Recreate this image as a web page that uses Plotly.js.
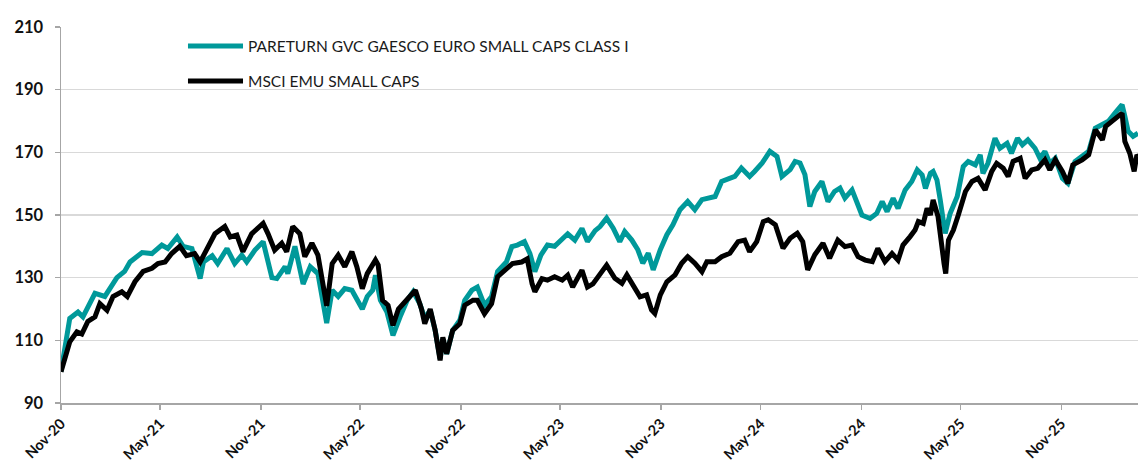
<!DOCTYPE html>
<html>
<head>
<meta charset="utf-8">
<script src="https://cdn.plot.ly/plotly-3.0.1.min.js"></script>
<style>
html,body{margin:0;padding:0;background:#fff;}
#chart{width:1138px;height:462px;}
</style>
</head>
<body>
<div id="chart"></div>
<script>
const seriesNames = ["PARETURN GVC GAESCO EURO SMALL CAPS CLASS I", "MSCI EMU SMALL CAPS"];

const fundDates = ["2020-11-01","2020-11-10","2020-11-17","2020-12-02","2020-12-11","2021-01-02","2021-01-20","2021-02-11","2021-02-25","2021-03-07","2021-03-29","2021-04-16","2021-05-04","2021-05-15","2021-06-01","2021-06-12","2021-06-28","2021-07-13","2021-07-19","2021-08-04","2021-08-14","2021-08-31","2021-09-14","2021-09-27","2021-10-06","2021-10-21","2021-11-05","2021-11-21","2021-11-30","2021-12-15","2021-12-20","2022-01-02","2022-01-17","2022-01-30","2022-02-13","2022-03-01","2022-03-11","2022-03-22","2022-04-03","2022-04-16","2022-04-25","2022-05-05","2022-05-14","2022-05-24","2022-05-29","2022-06-07","2022-06-19","2022-06-30","2022-07-13","2022-07-26","2022-08-06","2022-08-18","2022-08-27","2022-09-06","2022-09-15","2022-09-24","2022-09-29","2022-10-06","2022-10-17","2022-10-30","2022-11-08","2022-11-21","2022-12-01","2022-12-14","2022-12-27","2023-01-07","2023-01-23","2023-02-02","2023-02-12","2023-02-25","2023-03-07","2023-03-16","2023-03-27","2023-04-08","2023-04-21","2023-05-05","2023-05-15","2023-05-28","2023-06-10","2023-06-20","2023-07-04","2023-07-13","2023-07-25","2023-08-06","2023-08-18","2023-08-27","2023-09-09","2023-09-20","2023-09-29","2023-10-09","2023-10-18","2023-10-31","2023-11-12","2023-11-23","2023-12-06","2023-12-20","2024-01-02","2024-01-15","2024-01-24","2024-02-08","2024-02-20","2024-03-06","2024-03-15","2024-03-27","2024-04-11","2024-04-20","2024-05-04","2024-05-18","2024-05-31","2024-06-09","2024-06-24","2024-07-03","2024-07-12","2024-07-21","2024-07-30","2024-08-08","2024-08-21","2024-09-01","2024-09-13","2024-09-23","2024-10-02","2024-10-15","2024-10-24","2024-11-02","2024-11-17","2024-11-29","2024-12-09","2024-12-18","2024-12-29","2025-01-07","2025-01-20","2025-02-01","2025-02-11","2025-02-20","2025-02-26","2025-03-07","2025-03-12","2025-03-19","2025-03-25","2025-04-03","2025-04-12","2025-04-25","2025-05-06","2025-05-15","2025-05-28","2025-06-06","2025-06-11","2025-06-20","2025-07-03","2025-07-12","2025-07-25","2025-08-02","2025-08-13","2025-08-22","2025-09-01","2025-09-14","2025-09-23","2025-10-02","2025-10-11","2025-10-21","2025-11-03","2025-11-13","2025-11-26","2025-12-09","2025-12-21","2026-01-02","2026-01-15","2026-01-26","2026-02-07","2026-02-20","2026-02-25","2026-03-03","2026-03-12","2026-03-21"];
const fundValues = [100,110,117,119,117.5,125,124,130,132,135,138,137.7,140.4,139.3,143,140,139.3,129.7,135,137,134.5,139.3,134.5,137.2,135,138.8,141.5,130,129.7,133.5,131.3,140,128,133.5,131.3,115.5,126,124,126.5,126,122.8,120,124,126,130.8,122.8,119,111.6,117.5,122.8,125.5,121.7,117,119.6,113.2,104.1,110.5,105.7,113.2,116.4,122.8,126,127,121.2,124,132,135,139.9,140.4,141.5,137.7,131.9,137.2,140.4,140,142.5,144,142,145.7,141.5,145,146.3,149,145.8,141.5,144.7,142,138.9,134.6,137.8,132.5,138.9,143.7,146.9,151.7,154.3,151.7,154.9,155.4,155.9,160.7,161.8,162.3,165,162.3,163.9,166.6,170.3,168.7,162.3,164.5,167.1,166.6,162.9,152.7,157.5,160.7,154.3,157.5,158.6,155.4,158,154.3,150,148.9,150.5,154.3,151.1,155.3,152.1,158,160.7,164.4,162.8,158.5,163.3,163.9,161.2,154.8,144.1,150.5,155.9,165.5,167.1,166,169.2,163.3,166.5,174.5,171.3,172.9,169.7,174.5,172.4,174,171.3,168.1,170.3,166.5,168.1,161.7,160.1,167.1,168.7,170.3,177.7,178.8,179.9,182.5,185.2,181.5,176.7,175.1,176.1];

const indexDates = ["2020-11-01","2020-11-10","2020-11-17","2020-11-30","2020-12-09","2020-12-20","2021-01-02","2021-01-11","2021-01-24","2021-02-04","2021-02-20","2021-03-02","2021-03-16","2021-03-31","2021-04-16","2021-04-27","2021-05-10","2021-05-22","2021-06-06","2021-06-18","2021-07-03","2021-07-13","2021-07-25","2021-08-09","2021-08-27","2021-09-06","2021-09-18","2021-09-29","2021-10-15","2021-11-05","2021-11-14","2021-11-26","2021-12-09","2021-12-18","2021-12-29","2022-01-11","2022-01-20","2022-02-02","2022-02-13","2022-03-01","2022-03-11","2022-03-22","2022-04-03","2022-04-16","2022-04-25","2022-05-05","2022-05-14","2022-05-29","2022-06-03","2022-06-11","2022-06-21","2022-06-30","2022-07-10","2022-07-23","2022-08-10","2022-08-21","2022-08-27","2022-09-06","2022-09-15","2022-09-24","2022-09-29","2022-10-06","2022-10-17","2022-10-30","2022-11-08","2022-11-23","2022-12-01","2022-12-14","2022-12-27","2023-01-07","2023-01-23","2023-02-03","2023-02-20","2023-03-02","2023-03-11","2023-03-16","2023-03-29","2023-04-08","2023-04-21","2023-05-05","2023-05-15","2023-05-24","2023-06-10","2023-06-20","2023-06-30","2023-07-13","2023-07-25","2023-08-09","2023-08-22","2023-08-31","2023-09-11","2023-09-24","2023-10-06","2023-10-15","2023-10-21","2023-10-31","2023-11-12","2023-11-27","2023-12-09","2023-12-20","2024-01-02","2024-01-15","2024-01-24","2024-02-08","2024-02-20","2024-03-06","2024-03-21","2024-04-02","2024-04-11","2024-04-24","2024-05-06","2024-05-15","2024-05-28","2024-06-06","2024-06-11","2024-06-24","2024-07-07","2024-07-17","2024-07-26","2024-08-08","2024-08-23","2024-09-04","2024-09-19","2024-10-02","2024-10-15","2024-10-26","2024-11-08","2024-11-21","2024-12-01","2024-12-14","2024-12-27","2025-01-07","2025-01-16","2025-01-29","2025-02-07","2025-02-13","2025-02-22","2025-03-01","2025-03-07","2025-03-12","2025-03-21","2025-04-01","2025-04-04","2025-04-09","2025-04-18","2025-04-27","2025-05-10","2025-05-22","2025-06-02","2025-06-15","2025-06-27","2025-07-06","2025-07-18","2025-07-27","2025-08-05","2025-08-18","2025-08-27","2025-09-08","2025-09-19","2025-10-02","2025-10-11","2025-10-21","2025-11-03","2025-11-13","2025-11-22","2025-12-09","2025-12-21","2026-01-02","2026-01-15","2026-01-21","2026-02-04","2026-02-20","2026-02-25","2026-03-06","2026-03-14","2026-03-19","2026-03-21"];
const indexValues = [100,106,109.5,112.7,112,116,117.5,121.7,119.6,124,125.5,124,128.7,132,133,134.5,135,137.7,140,137,137.7,135,139.3,144,146.3,143,143.6,138.3,144,147.3,144,138.8,141,138.3,146.3,144,136.7,141,137.2,121,134.5,137.2,133.5,138.3,133.5,126.5,131.3,135.6,134,122.8,121.2,114.8,120,122.3,126,120,115.3,120,113.2,103.6,111,105.7,113.2,115.3,121.2,122.8,122.8,118.5,121.7,130.3,133,134.5,135,136,128,125.5,129.7,129.2,130.3,129.2,130.8,127,132.4,127,128,131,134,129.8,128.2,130.9,127.7,123.9,124.5,119.7,118.6,124.5,128.7,130.9,134.6,136.7,134.6,131.9,135.1,135.1,136.7,137.8,141.5,142,138.3,141.5,147.9,148.5,146.9,142,139.4,142.6,144.2,141.5,132.5,137.3,141,136.2,142,139.9,140.4,136.7,135.6,135.1,139.3,135.1,137.7,135.6,140.4,143.1,145.2,147.9,147.3,152.1,150,154.8,149.5,134.5,131.3,142,145.2,150,157.5,160.7,161.7,158,163.9,166.5,164.9,162.3,167.1,168.1,161.7,164.4,164.9,167.6,164.4,167.6,163.9,160.1,166,167.6,169.2,177.2,174,178.3,180.4,182.5,173.5,169.7,163.9,169.2,168.7];

const yTicks = [90,110,130,150,170,190,210];
const colors = ["#00999a", "#000000"];

const traces = [
  {x: fundDates, y: fundValues, name: seriesNames[0], type: "scatter", mode: "lines",
   line: {color: colors[0], width: 5}},
  {x: indexDates, y: indexValues, name: seriesNames[1], type: "scatter", mode: "lines",
   line: {color: colors[1], width: 5}}
];

const legendY = [0.9495, 0.8564];
const shapes = seriesNames.map((n, i) => ({
  type: "line", xref: "paper", yref: "paper",
  x0: 0.1179, x1: 0.1690, y0: legendY[i], y1: legendY[i],
  line: {color: colors[i], width: 5}
}));
const annotations = seriesNames.map((n, i) => ({
  text: n, xref: "paper", yref: "paper", x: 0.1718, y: legendY[i],
  xanchor: "left", yanchor: "middle", showarrow: false,
  font: {family: "Lato, sans-serif", size: 15.5, color: "#1a1a1a"}
}));

const layout = {
  width: 1138, height: 462,
  margin: {l: 61, r: 0, t: 27, b: 59},
  paper_bgcolor: "#ffffff", plot_bgcolor: "#ffffff",
  showlegend: false,
  font: {family: "Lato, sans-serif", color: "#000"},
  xaxis: {
    type: "date",
    range: ["2020-11-01", "2026-03-21"],
    tick0: "2020-11-01", dtick: "M6", tickformat: "%b-%y",
    tickangle: -45,
    tickfont: {family: "Lato, sans-serif", size: 14.5, weight: "bold", color: "#111"},
    showgrid: false, zeroline: false,
    showline: true, linecolor: "#a6a6a6", linewidth: 1.5,
    ticks: "outside", ticklen: 5, tickcolor: "#a6a6a6", tickwidth: 1.5,
    ticklabelstandoff: 0
  },
  yaxis: {
    range: [90, 210],
    tickvals: yTicks,
    ticktext: yTicks.map(String),
    tickfont: {family: "Lato, sans-serif", size: 16.5, weight: "bold", color: "#111"},
    showgrid: true, gridcolor: "#d9d9d9", gridwidth: 1.5,
    zeroline: false,
    showline: true, linecolor: "#a6a6a6", linewidth: 1.5,
    ticks: "outside", ticklen: 5, tickcolor: "#a6a6a6", tickwidth: 1.5,
    ticklabelstandoff: 8
  },
  shapes: shapes,
  annotations: annotations
};

Plotly.newPlot("chart", traces, layout, {displayModeBar: false, staticPlot: true});
</script>
</body>
</html>
